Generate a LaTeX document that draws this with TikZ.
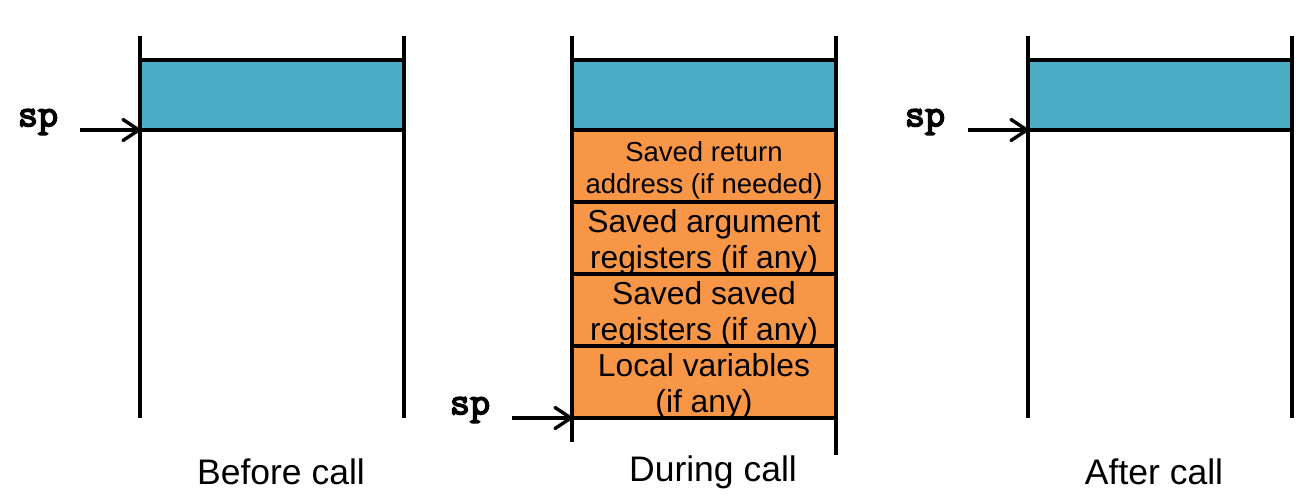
\documentclass[tikz,border=0pt]{standalone}
\usepackage{fontspec}
\setmainfont{Liberation Sans}
\newfontfamily\spfont{Latin Modern Mono}[AutoFakeBold=4]
\definecolor{frameblue}{HTML}{4BACC6}
\definecolor{frameorange}{HTML}{F79646}
\newcommand{\boxtext}[2]{\raisebox{-5pt}[\height][\depth]{\begin{tabular}{@{}c@{}}#1\\#2\end{tabular}}}
\begin{document}
\begin{tikzpicture}[x=1pt,y=-1pt,
  wall/.style={line width=3.2pt},
  bluebox/.style={draw,line width=3.2pt,fill=frameblue,minimum width=264pt,minimum height=70pt,inner sep=0pt,outer sep=0pt,anchor=north west},
  orangebox/.style={draw,line width=3.2pt,fill=frameorange,minimum width=264pt,minimum height=72pt,inner sep=0pt,outer sep=0pt,anchor=north west,font=\fontsize{31.8}{36}\selectfont},
  splabel/.style={font=\spfont\bfseries\fontsize{39}{40}\selectfont,inner sep=0pt},
  sparrow/.style={line width=3.2pt},
  tipline/.style={line width=3.4pt,line cap=round,line join=miter},
  caption/.style={font=\fontsize{35.5}{40}\selectfont,inner sep=0pt}]
\useasboundingbox (0,0) rectangle (1312,501);
% ---------- Before call ----------
\draw[wall] (140,36) -- (140,418);
\draw[wall] (404,36) -- (404,418);
\node[bluebox] (b1) at (140,60) {};
\node[splabel] (sp1) at (38,122) {sp};
\coordinate (s1) at (80,130);
\draw[sparrow] (s1) -- (b1.south west);
\draw[tipline] ([shift={(-17,-10.5)}]b1.south west) -- ([shift={(-1,0)}]b1.south west) -- ([shift={(-17,10.5)}]b1.south west);
\node[caption] (c1) at (281,472) {Before call};
% ---------- During call ----------
\draw[wall] (572,36) -- (572,442);
\draw[wall] (836,36) -- (836,455);
\node[bluebox] (b2) at (572,60) {};
\node[orangebox,font=\fontsize{27.5}{32}\selectfont] (o1) at (572,130) {\boxtext{Saved return}{address (if needed)}};
\node[orangebox] (o2) at (572,202) {\boxtext{Saved argument}{registers (if any)}};
\node[orangebox] (o3) at (572,274) {\boxtext{Saved saved}{registers (if any)}};
\node[orangebox] (o4) at (572,346) {\boxtext{Local variables}{(if any)}};
\node[splabel] (sp2) at (470,410) {sp};
\coordinate (s2) at (512,418);
\draw[sparrow] (s2) -- (o4.south west);
\draw[tipline] ([shift={(-17,-10.5)}]o4.south west) -- ([shift={(-1,0)}]o4.south west) -- ([shift={(-17,10.5)}]o4.south west);
\node[caption] (c2) at (713,472) {During call};
% ---------- After call ----------
\draw[wall] (1028,36) -- (1028,418);
\draw[wall] (1292,36) -- (1292,418);
\node[bluebox] (b3) at (1028,60) {};
\node[splabel] (sp3) at (925,122) {sp};
\coordinate (s3) at (968,130);
\draw[sparrow] (s3) -- (b3.south west);
\draw[tipline] ([shift={(-17,-10.5)}]b3.south west) -- ([shift={(-1,0)}]b3.south west) -- ([shift={(-17,10.5)}]b3.south west);
\node[caption] (c3) at (1154,472) {After call};
\end{tikzpicture}
\end{document}
